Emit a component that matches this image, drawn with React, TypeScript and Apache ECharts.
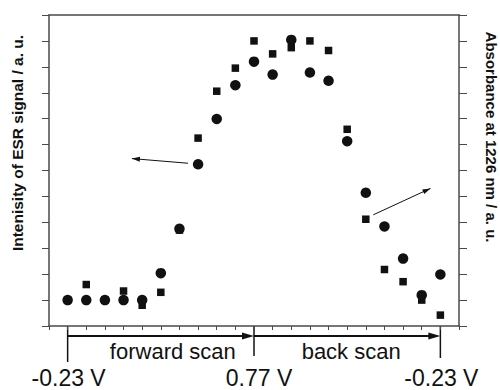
import React, { useEffect, useRef } from "react";
import * as echarts from "echarts";

const steps = [1, 2, 3, 4, 5, 6, 7, 8, 9, 10, 11, 12, 13, 14, 15, 16, 17, 18, 19, 20, 21];
const esrSignal = [0, 0, 0, 0, 0, 1.04, 2.75, 5.24, 6.99, 8.29, 9.2, 8.7, 10.04, 8.78, 8.46, 6.13, 4.14, 2.84, 1.6, 0.19, 0.99];
const absorbance = [0, 0.6, 0, 0.35, -0.2, 0.3, 2.7, 6.25, 8.06, 8.95, 10.0, 9.5, 9.74, 10.0, 9.63, 6.59, 3.12, 1.18, 0.71, 0, -0.58];
const voltageLabels = ["-0.23 V", "0.77 V", "-0.23 V"];
const voltageSteps = [1, 11, 21];
const scanLabels = ["forward scan", "back scan"];
const leftTitle = "Intenisity of ESR signal / a. u.";
const rightTitle = "Absorbance at 1226 nm / a. u.";

const AXIS = "#4a4a4a";
const INK = "#111111";
const FONT = "'Liberation Sans', Arial, Helvetica, sans-serif";

function arrowHead(tipX: number, tipY: number, fromX: number, fromY: number, len: number, half: number) {
  const dx = tipX - fromX;
  const dy = tipY - fromY;
  const d = Math.sqrt(dx * dx + dy * dy) || 1;
  const ux = dx / d;
  const uy = dy / d;
  const bx = tipX - ux * len;
  const by = tipY - uy * len;
  return {
    type: "polygon",
    shape: {
      points: [
        [tipX, tipY],
        [bx - uy * half, by + ux * half],
        [bx + uy * half, by - ux * half],
      ],
    },
    style: { fill: INK },
    silent: true,
  };
}

export default function App() {
  const ref = useRef<HTMLDivElement>(null);
  useEffect(() => {
    if (!ref.current) return;
    const chart = echarts.init(ref.current, undefined, { renderer: "svg" });
    const axisCommon = {
      type: "value" as const,
      min: 0,
      max: 22,
      interval: 1,
      axisLine: { show: true, onZero: false, lineStyle: { color: AXIS, width: 1.5 } },
      axisLabel: { show: false },
      splitLine: { show: false },
    };
    const yCommon = {
      type: "value" as const,
      min: -1,
      max: 11,
      interval: 1,
      axisLine: { show: true, onZero: false, lineStyle: { color: AXIS, width: 1.5 } },
      axisLabel: { show: false },
      splitLine: { show: false },
    };
    chart.setOption({
      animation: false,
      grid: { left: 49, right: 41, top: 15, bottom: 64 },
      xAxis: [
        { ...axisCommon, position: "bottom", axisTick: { show: true, inside: false, length: 4, lineStyle: { color: AXIS, width: 1 } } },
        { ...axisCommon, position: "top", axisTick: { show: false } },
      ],
      yAxis: [
        { ...yCommon, position: "left", axisTick: { show: true, inside: false, length: 7, lineStyle: { color: AXIS, width: 1 } } },
        { ...yCommon, position: "right", axisTick: { show: true, inside: false, length: 8, lineStyle: { color: AXIS, width: 1 } } },
      ],
      series: [
        {
          type: "scatter",
          name: "Absorbance",
          xAxisIndex: 0,
          yAxisIndex: 1,
          symbol: "rect",
          symbolSize: 7.5,
          itemStyle: { color: INK, opacity: 1 },
          data: steps.map((s, i) => [s, absorbance[i]]),
        },
        {
          type: "scatter",
          name: "ESR",
          xAxisIndex: 0,
          yAxisIndex: 0,
          symbol: "circle",
          symbolSize: 10.5,
          itemStyle: { color: INK, opacity: 1 },
          data: steps.map((s, i) => [s, esrSignal[i]]),
        },
      ],
    });

    const px = (x: number, y: number) => chart.convertToPixel({ xAxisIndex: 0, yAxisIndex: 0 }, [x, y]) as number[];
    const xs = voltageSteps.map((s) => px(s, 0)[0]);
    const yBottom = px(0, -1)[1];
    const arrowY = yBottom + 10;
    const graphics: any[] = [];

    // bottom scan arrows
    graphics.push({ type: "line", shape: { x1: xs[0], y1: arrowY, x2: xs[1] - 8, y2: arrowY }, style: { stroke: INK, lineWidth: 2 } });
    graphics.push(arrowHead(xs[1], arrowY, xs[0], arrowY, 12, 3.5));
    graphics.push({ type: "line", shape: { x1: xs[1], y1: arrowY, x2: xs[2] - 8, y2: arrowY }, style: { stroke: INK, lineWidth: 2 } });
    graphics.push(arrowHead(xs[2], arrowY, xs[1], arrowY, 12, 3.5));
    const vEnds = [36, 30, 32];
    xs.forEach((x, i) => {
      graphics.push({ type: "line", shape: { x1: x, y1: yBottom, x2: x, y2: yBottom + vEnds[i] }, style: { stroke: INK, lineWidth: 1.5 } });
    });
    graphics.push({
      type: "text",
      x: (xs[0] + xs[1]) / 2 + 12,
      y: yBottom + 25,
      style: { text: scanLabels[0], font: `22px ${FONT}`, fill: INK, align: "center", verticalAlign: "middle" },
    });
    graphics.push({
      type: "text",
      x: (xs[1] + xs[2]) / 2 + 4,
      y: yBottom + 25,
      style: { text: scanLabels[1], font: `22px ${FONT}`, fill: INK, align: "center", verticalAlign: "middle" },
    });
    const labelOffsets = [1, 5, 1];
    voltageLabels.forEach((t, i) => {
      graphics.push({
        type: "text",
        x: xs[i] + labelOffsets[i],
        y: yBottom + 52,
        style: { text: t, font: `23px ${FONT}`, fill: INK, align: "center", verticalAlign: "middle" },
      });
    });

    // in-plot arrows
    const a1 = px(7.46, 5.28);
    const a1t = px(4.45, 5.46);
    graphics.push({ type: "line", shape: { x1: a1[0], y1: a1[1], x2: a1t[0], y2: a1t[1] }, style: { stroke: INK, lineWidth: 1 } });
    graphics.push(arrowHead(a1t[0], a1t[1], a1[0], a1[1], 8, 2.5));
    const a2 = px(17.4, 3.29);
    const a2t = px(20.47, 4.31);
    graphics.push({ type: "line", shape: { x1: a2[0], y1: a2[1], x2: a2t[0], y2: a2t[1] }, style: { stroke: INK, lineWidth: 1 } });
    graphics.push(arrowHead(a2t[0], a2t[1], a2[0], a2[1], 8, 2.5));

    // axis titles
    graphics.push({
      type: "text",
      x: 17,
      y: 143,
      rotation: Math.PI / 2,
      style: { text: leftTitle, font: `bold 15.5px ${FONT}`, fill: INK, align: "center", verticalAlign: "middle" },
    });
    graphics.push({
      type: "text",
      x: 491,
      y: 137,
      rotation: -Math.PI / 2,
      style: { text: rightTitle, font: `bold 15px ${FONT}`, fill: INK, align: "center", verticalAlign: "middle" },
    });

    chart.setOption({ graphic: graphics });
    return () => chart.dispose();
  }, []);
  return <div ref={ref} style={{ position: "fixed", left: 0, top: 0, width: 500, height: 390, background: "#fff" }} />;
}
